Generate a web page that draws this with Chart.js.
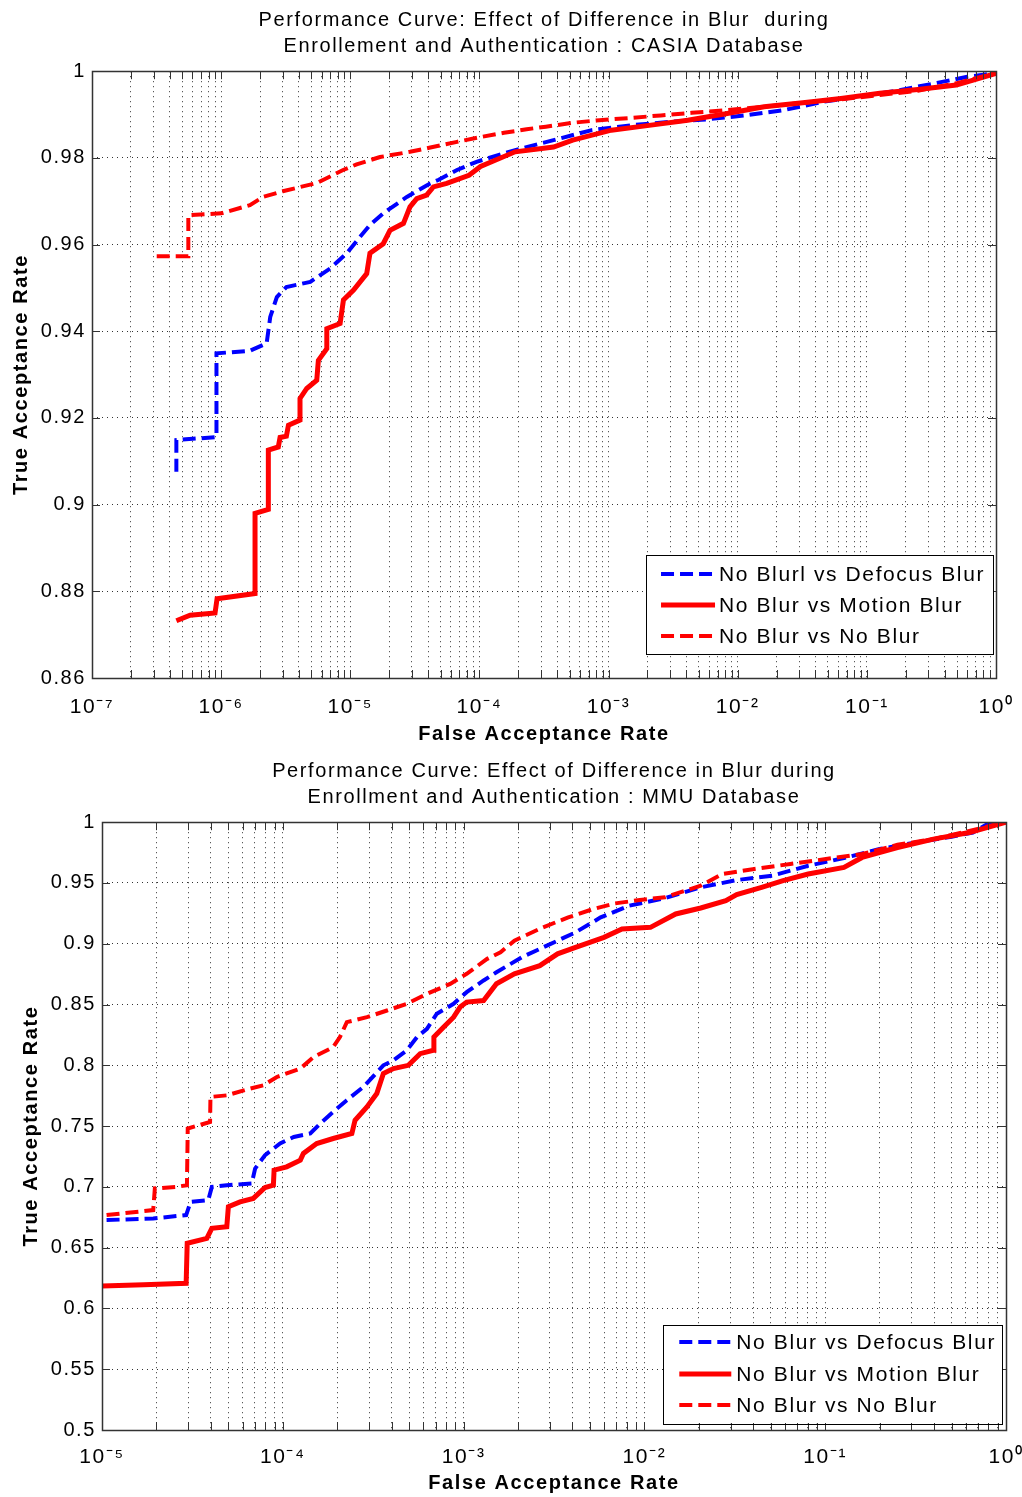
<!DOCTYPE html>
<html>
<head>
<meta charset="utf-8">
<script src="https://cdn.jsdelivr.net/npm/chart.js@4.4.1/dist/chart.umd.min.js"></script>
<style>
  body { margin: 0; background: #fff; width: 1022px; height: 1497px; overflow: hidden; }
  .panel { position: absolute; left: 0; width: 1022px; }
  #topPanel { top: 0; height: 752px; }
  #bottomPanel { top: 752px; height: 745px; }
</style>
</head>
<body>
<div class="panel" id="topPanel"><canvas id="casiaChart"></canvas></div>
<div class="panel" id="bottomPanel"><canvas id="mmuChart"></canvas></div>
<script>
// ---- CASIA (top) ----
const casiaDecades = [1e-7, 1e-6, 1e-5, 1e-4, 1e-3, 1e-2, 1e-1, 1];

const casiaDefocusFar = [4.5e-7, 4.5e-7, 9.2e-7, 9.2e-7, 1.67e-6, 2.25e-6, 2.4e-6, 2.7e-6, 3.2e-6, 4.9e-6, 7.0e-6, 9.4e-6, 1.19e-5, 1.42e-5, 1.8e-5, 2.74e-5, 4.15e-5, 4.8e-5, 6.7e-5, 9.5e-5, 1.89e-4, 3.75e-4, 7.4e-4, 1.47e-3, 2.92e-3, 5.8e-3, 1.14e-2, 2.26e-2, 4.5e-2, 8.9e-2, 0.177, 0.35, 0.6, 1];
const casiaDefocusTar = [0.9076, 0.9149, 0.9156, 0.9349, 0.9355, 0.9372, 0.9433, 0.9479, 0.9502, 0.9514, 0.9545, 0.958, 0.9618, 0.9645, 0.9672, 0.971, 0.9741, 0.9749, 0.9772, 0.9791, 0.9818, 0.9841, 0.9864, 0.9875, 0.9883, 0.9889, 0.9898, 0.991, 0.9929, 0.9942, 0.9956, 0.9973, 0.9987, 0.9996];

const casiaMotionFar = [4.5e-7, 5.75e-7, 8.97e-7, 9.3e-7, 1.83e-6, 1.83e-6, 2.32e-6, 2.32e-6, 2.77e-6, 2.86e-6, 3.2e-6, 3.32e-6, 4.08e-6, 4.08e-6, 4.6e-6, 5.5e-6, 5.66e-6, 6.58e-6, 6.58e-6, 8.34e-6, 8.85e-6, 1.06e-5, 1.34e-5, 1.42e-5, 1.8e-5, 2.03e-5, 2.58e-5, 2.9e-5, 3.27e-5, 3.9e-5, 4.4e-5, 5.58e-5, 8.3e-5, 1.02e-4, 1.89e-4, 3.75e-4, 5.27e-4, 1.05e-3, 2.06e-3, 4.1e-3, 8.1e-3, 1.6e-2, 3.19e-2, 6.3e-2, 0.126, 0.248, 0.493, 1];
const casiaMotionTar = [0.8732, 0.8745, 0.875, 0.8783, 0.8795, 0.898, 0.8989, 0.9126, 0.9133, 0.9155, 0.9158, 0.9183, 0.9195, 0.9245, 0.9268, 0.9287, 0.9333, 0.936, 0.9406, 0.9418, 0.9472, 0.9495, 0.9533, 0.958, 0.9602, 0.9633, 0.9649, 0.9687, 0.9706, 0.9714, 0.9733, 0.9741, 0.976, 0.978, 0.9814, 0.9825, 0.9841, 0.9864, 0.9875, 0.9887, 0.9902, 0.9918, 0.9927, 0.9937, 0.9949, 0.9958, 0.9968, 0.9995];

const casiaNoBlurFar = [3.17e-7, 5.57e-7, 5.57e-7, 1.0e-6, 1.67e-6, 2.11e-6, 3.0e-6, 5.5e-6, 8.8e-6, 1.12e-5, 1.7e-5, 2.9e-5, 4.17e-5, 6.7e-5, 1.02e-4, 1.55e-4, 2.32e-4, 3.27e-4, 5.27e-4, 8.5e-4, 1.47e-3, 2.54e-3, 4.4e-3, 8.1e-3, 1.6e-2, 3.19e-2, 6.3e-2, 0.126, 0.248, 0.493, 1];
const casiaNoBlurTar = [0.9573, 0.9573, 0.9668, 0.9672, 0.9691, 0.971, 0.9723, 0.9742, 0.9772, 0.9785, 0.9802, 0.9814, 0.9824, 0.9837, 0.9848, 0.9858, 0.9866, 0.9872, 0.9881, 0.9887, 0.9892, 0.9898, 0.9904, 0.991, 0.9918, 0.9927, 0.9935, 0.9945, 0.9955, 0.9972, 0.9996];

// ---- MMU (bottom) ----
const mmuDecades = [1e-5, 1e-4, 1e-3, 1e-2, 1e-1, 1];

const mmuDefocusFar = [1.06e-5, 1.92e-5, 2.92e-5, 3.09e-5, 3.87e-5, 4.05e-5, 4.9e-5, 6.73e-5, 7.03e-5, 7.98e-5, 9.66e-5, 1.15e-4, 1.42e-4, 1.61e-4, 1.9e-4, 2.26e-4, 2.79e-4, 3.6e-4, 4.09e-4, 4.85e-4, 5.52e-4, 6.27e-4, 7.11e-4, 8.8e-4, 1.04e-3, 1.29e-3, 1.52e-3, 2.1e-3, 2.89e-3, 4.16e-3, 5.73e-3, 8.24e-3, 1.3e-2, 2.05e-2, 3.24e-2, 5.1e-2, 8.05e-2, 0.127, 0.2, 0.316, 0.499, 0.656, 0.787, 1];
const mmuDefocusTar = [0.6727, 0.674, 0.6768, 0.6877, 0.6891, 0.7, 0.7014, 0.7027, 0.7151, 0.7261, 0.7357, 0.7411, 0.7439, 0.7521, 0.7617, 0.7713, 0.7822, 0.8, 0.8041, 0.8123, 0.8232, 0.83, 0.8424, 0.8506, 0.8602, 0.8698, 0.8766, 0.8889, 0.8985, 0.9094, 0.9217, 0.9313, 0.9376, 0.9464, 0.9524, 0.956, 0.9642, 0.9705, 0.9779, 0.9833, 0.988, 0.9915, 0.9984, 1.0];

const mmuMotionFar = [1.0e-5, 1.7e-5, 2.92e-5, 2.96e-5, 3.8e-5, 4.05e-5, 4.9e-5, 5.0e-5, 5.8e-5, 6.87e-5, 7.98e-5, 8.87e-5, 8.95e-5, 1.05e-4, 1.25e-4, 1.3e-4, 1.54e-4, 1.9e-4, 2.41e-4, 2.51e-4, 2.92e-4, 3.31e-4, 3.6e-4, 4.09e-4, 4.95e-4, 5.75e-4, 6.8e-4, 6.85e-4, 7.74e-4, 8.8e-4, 9.57e-4, 1.04e-3, 1.29e-3, 1.52e-3, 1.91e-3, 2.64e-3, 3.31e-3, 4.16e-3, 5.98e-3, 7.52e-3, 1.08e-2, 1.49e-2, 2.05e-2, 2.82e-2, 3.24e-2, 4.45e-2, 5.85e-2, 8.05e-2, 0.127, 0.16, 0.251, 0.397, 0.627, 1];
const mmuMotionTar = [0.6185, 0.6194, 0.6207, 0.6536, 0.6577, 0.6659, 0.6672, 0.6836, 0.6877, 0.6905, 0.6995, 0.7014, 0.7138, 0.7165, 0.722, 0.7275, 0.7357, 0.7398, 0.7439, 0.7548, 0.7658, 0.7768, 0.7932, 0.7973, 0.8, 0.8096, 0.8123, 0.8232, 0.8314, 0.8396, 0.8479, 0.852, 0.8533, 0.8671, 0.8753, 0.882, 0.8917, 0.8971, 0.9053, 0.9122, 0.9135, 0.9245, 0.9294, 0.9355, 0.9404, 0.9464, 0.9519, 0.9574, 0.9628, 0.971, 0.9792, 0.9861, 0.9915, 1.0];

const mmuNoBlurFar = [1.06e-5, 1.92e-5, 1.96e-5, 2.59e-5, 2.95e-5, 2.98e-5, 3.96e-5, 3.98e-5, 4.9e-5, 6.59e-5, 7.82e-5, 9.27e-5, 1.25e-4, 1.48e-4, 1.9e-4, 2.07e-4, 2.26e-4, 2.92e-4, 3.77e-4, 4.85e-4, 6.27e-4, 8.43e-4, 1.04e-3, 1.35e-3, 1.6e-3, 1.91e-3, 2.75e-3, 3.79e-3, 5.22e-3, 6.87e-3, 9.44e-3, 1.3e-2, 2.05e-2, 2.7e-2, 4.06e-2, 6.41e-2, 0.101, 0.16, 0.251, 0.397, 0.627, 1];
const mmuNoBlurTar = [0.6768, 0.6809, 0.6987, 0.7, 0.7014, 0.748, 0.7534, 0.774, 0.7753, 0.7808, 0.7836, 0.7904, 0.7973, 0.8068, 0.815, 0.8232, 0.8355, 0.8396, 0.8451, 0.8506, 0.8588, 0.867, 0.8753, 0.8876, 0.893, 0.9026, 0.9135, 0.9217, 0.9286, 0.9332, 0.936, 0.9382, 0.9478, 0.9574, 0.9615, 0.9656, 0.9697, 0.9738, 0.9814, 0.9861, 0.9929, 1.0];

Chart.defaults.font.family = "'Liberation Sans', Arial, sans-serif";
Chart.defaults.color = '#000';

const SUP = { '-': '\u207B', '0': '\u2070', '1': '\u00B9', '2': '\u00B2', '3': '\u00B3', '4': '\u2074', '5': '\u2075', '6': '\u2076', '7': '\u2077', '8': '\u2078', '9': '\u2079' };
function powLabel(v) {
  const e = Math.round(Math.log10(v));
  return '10' + String(e).split('').map(c => SUP[c]).join('');
}
function pairs(xs, ys) { return xs.map((x, i) => ({ x: x, y: ys[i] })); }

// every 1..9 x 10^n between the decades, labels only on the decades
function logTicks(decades) {
  const out = [];
  decades.forEach((d, i) => {
    if (i === decades.length - 1) { out.push({ value: d }); return; }
    for (let m = 1; m <= 9; m++) out.push({ value: +(d * m).toPrecision(3) });
  });
  return out;
}

// MATLAB text is a bit wider than Arial: spread letters a little
const spacingPlugin = {
  id: 'spacing',
  beforeDraw(chart) {
    if ('letterSpacing' in chart.ctx) chart.ctx.letterSpacing = '1.6px';
  }
};

// box around plot area + inside ticks
const framePlugin = {
  id: 'frame',
  afterDraw(chart) {
    const { ctx, chartArea: a, scales } = chart;
    ctx.save();
    ctx.setLineDash([]);
    ctx.strokeStyle = '#333';
    ctx.lineWidth = 1;
    ctx.beginPath();
    scales.x.ticks.forEach(t => {
      const px = Math.round(scales.x.getPixelForValue(t.value)) + 0.5;
      ctx.moveTo(px, a.bottom); ctx.lineTo(px, a.bottom - 8);
      ctx.moveTo(px, a.top); ctx.lineTo(px, a.top + 8);
    });
    scales.y.ticks.forEach(t => {
      const py = Math.round(scales.y.getPixelForValue(t.value)) + 0.5;
      ctx.moveTo(a.left, py); ctx.lineTo(a.left + 8, py);
      ctx.moveTo(a.right, py); ctx.lineTo(a.right - 8, py);
    });
    ctx.stroke();
    ctx.lineWidth = 1.5;
    ctx.strokeRect(Math.round(a.left) + 0.5, Math.round(a.top) + 0.5, Math.round(a.width), Math.round(a.height));
    ctx.restore();
  }
};

// boxed legend inside the plot, bottom-right
const boxLegendPlugin = {
  id: 'boxLegend',
  afterDraw(chart, args, o) {
    const { ctx, chartArea: a } = chart;
    const sets = chart.data.datasets;
    ctx.save();
    ctx.font = o.font;
    const textW = Math.max(...sets.map(d => ctx.measureText(d.label).width));
    const w = o.padLeft + o.sample + o.gap + textW + o.padRight;
    const h = o.row * sets.length + o.padV * 2;
    const right = a.right - o.insetRight, bottom = a.bottom - o.insetBottom;
    const left = right - w, top = bottom - h;
    ctx.fillStyle = '#fff';
    ctx.fillRect(left, top, w, h);
    ctx.strokeStyle = '#000';
    ctx.lineWidth = 1;
    ctx.strokeRect(Math.round(left) + 0.5, Math.round(top) + 0.5, Math.round(w), Math.round(h));
    sets.forEach((d, i) => {
      const y = Math.round(top + o.padV + o.row * (i + 0.5));
      ctx.beginPath();
      ctx.strokeStyle = d.borderColor;
      ctx.lineWidth = d.borderWidth;
      ctx.setLineDash(d.borderDash || []);
      ctx.moveTo(left + o.padLeft, y);
      ctx.lineTo(left + o.padLeft + o.sample, y);
      ctx.stroke();
      ctx.setLineDash([]);
      ctx.fillStyle = '#000';
      ctx.textBaseline = 'middle';
      ctx.textAlign = 'left';
      ctx.fillText(d.label, left + o.padLeft + o.sample + o.gap, y + 1);
    });
    ctx.restore();
  }
};

function makeChart(id, cfg) {
  return new Chart(document.getElementById(id), {
    type: 'line',
    data: {
      datasets: [
        { label: cfg.labels[0], data: cfg.series[0], borderColor: '#0000ff', borderWidth: 4, borderDash: [13, 6], order: 3 },
        { label: cfg.labels[1], data: cfg.series[1], borderColor: '#ff0000', borderWidth: 5, order: 2 },
        { label: cfg.labels[2], data: cfg.series[2], borderColor: '#ff0000', borderWidth: 4, borderDash: [13, 6], order: 1 }
      ]
    },
    options: {
      responsive: true,
      maintainAspectRatio: false,
      animation: false,
      events: [],
      elements: { point: { radius: 0 }, line: { tension: 0, borderCapStyle: 'butt', borderJoinStyle: 'miter' } },
      layout: { padding: { left: 0, right: cfg.padRight, top: 0, bottom: 0 } },
      plugins: {
        legend: { display: false },
        tooltip: { enabled: false },
        title: {
          display: true,
          fullSize: false,
          text: cfg.title,
          font: { size: 20, weight: 'normal', lineHeight: 1.33 },
          color: '#000',
          padding: { top: cfg.titleTop, bottom: cfg.titleBottom }
        },
        boxLegend: cfg.legend
      },
      scales: {
        x: {
          type: 'logarithmic',
          min: cfg.decades[0],
          max: cfg.decades[cfg.decades.length - 1],
          afterBuildTicks: s => { s.ticks = logTicks(cfg.decades); },
          afterFit: s => { s.height = cfg.xAxisHeight; s.paddingLeft = 0; s.paddingRight = 0; },
          ticks: {
            autoSkip: false, maxRotation: 0, padding: cfg.xTickPad,
            font: { size: 21 },
            callback: v => cfg.decades.some(d => Math.abs(Math.log10(d) - Math.log10(v)) < 1e-6) ? powLabel(v) : ''
          },
          grid: { color: '#333', lineWidth: 1, drawTicks: false },
          border: { display: false, dash: [1, 4] },
          title: { display: true, text: 'False Acceptance Rate', font: { size: 20, weight: 'bold' }, padding: { top: 0, bottom: cfg.xTitlePad } }
        },
        y: {
          type: 'linear',
          min: cfg.yMin, max: 1,
          afterFit: s => { s.width = cfg.yAxisWidth; },
          ticks: {
            stepSize: cfg.yStep, padding: 6, font: { size: 20 },
            callback: v => String(+v.toFixed(2))
          },
          grid: { color: '#333', lineWidth: 1, drawTicks: false },
          border: { display: false, dash: [1, 4] },
          title: { display: true, text: 'True Acceptance Rate', font: { size: 20, weight: 'bold' }, padding: { top: cfg.yTitlePad, bottom: 0 } }
        }
      }
    },
    plugins: [spacingPlugin, framePlugin, boxLegendPlugin]
  });
}

makeChart('casiaChart', {
  title: ['Performance Curve: Effect of Difference in Blur  during', 'Enrollement and Authentication : CASIA Database'],
  titleTop: 7, titleBottom: 11,
  labels: ['No Blurl vs Defocus Blur', 'No Blur vs Motion Blur', 'No Blur vs No Blur'],
  series: [pairs(casiaDefocusFar, casiaDefocusTar), pairs(casiaMotionFar, casiaMotionTar), pairs(casiaNoBlurFar, casiaNoBlurTar)],
  decades: casiaDecades,
  yMin: 0.86, yStep: 0.02,
  padRight: 26, yAxisWidth: 92, xAxisHeight: 74, xTickPad: 17, xTitlePad: 6, yTitlePad: 9,
  legend: { font: "21px 'Liberation Sans', Arial, sans-serif", padLeft: 15, sample: 54, gap: 4, padRight: 8, row: 31, padV: 3, insetRight: 3, insetBottom: 24 }
});

makeChart('mmuChart', {
  title: ['Performance Curve: Effect of Difference in Blur during', 'Enrollment and Authentication : MMU Database'],
  titleTop: 6, titleBottom: 11,
  labels: ['No Blur vs Defocus Blur', 'No Blur vs Motion Blur', 'No Blur vs No Blur'],
  series: [pairs(mmuDefocusFar, mmuDefocusTar), pairs(mmuMotionFar, mmuMotionTar), pairs(mmuNoBlurFar, mmuNoBlurTar)],
  decades: mmuDecades,
  yMin: 0.5, yStep: 0.05,
  padRight: 16, yAxisWidth: 102, xAxisHeight: 67, xTickPad: 15, xTitlePad: 2, yTitlePad: 19,
  legend: { font: "21px 'Liberation Sans', Arial, sans-serif", padLeft: 16, sample: 52, gap: 5, padRight: 6, row: 31.5, padV: 2, insetRight: 4, insetBottom: 7 }
});
</script>
</body>
</html>
